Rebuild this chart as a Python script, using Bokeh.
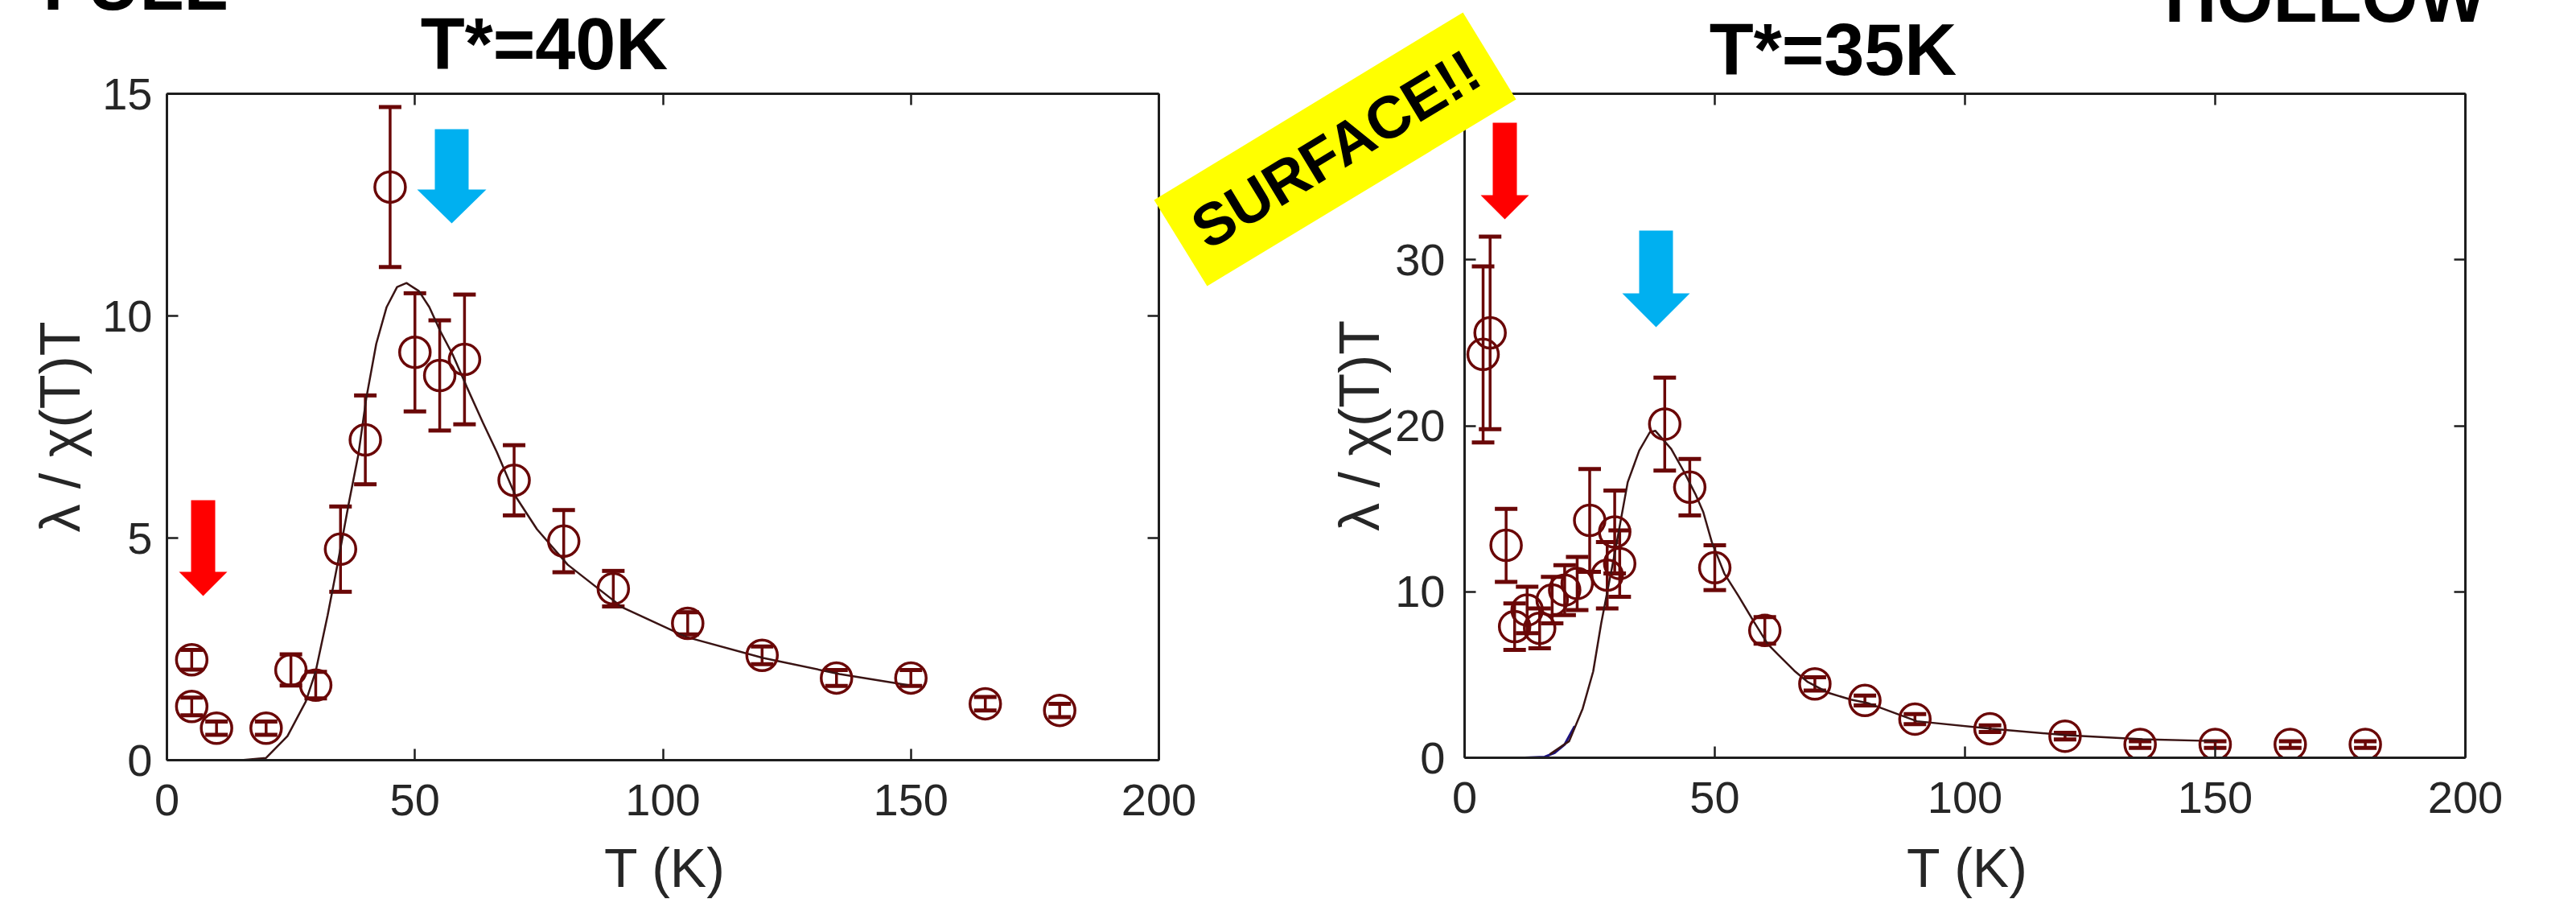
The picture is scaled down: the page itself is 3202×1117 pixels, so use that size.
from bokeh.plotting import figure
from bokeh.layouts import row
from bokeh.models import (ColumnDataSource, Whisker, TeeHead, FixedTicker, LinearAxis,
                          PolyAnnotation, Range1d)
from bokeh.core.properties import value
from bokeh.embed import file_html
from bokeh.resources import INLINE

# ---------------- data : FULL (left panel) ----------------
full_T = [5, 5, 10, 20, 25, 30, 35, 40, 45, 50, 55, 60, 70, 80, 90, 105, 120, 135, 150, 165, 180]
full_val = [2.26, 1.21, 0.72, 0.72, 2.03, 1.69, 4.75, 7.21, 12.9, 9.18, 8.66, 9.02, 6.30, 4.93,
            3.86, 3.08, 2.36, 1.85, 1.85, 1.27, 1.12]
full_err = [0.22, 0.20, 0.15, 0.15, 0.35, 0.30, 0.96, 1.00, 1.80, 1.33, 1.24, 1.46, 0.79, 0.70,
            0.40, 0.25, 0.20, 0.18, 0.18, 0.15, 0.15]
full_fit_T = [15, 20, 24.3, 28, 30, 32.4, 34.5, 36.7, 38.6, 40.2, 42.2, 44.3, 46.4, 48.3, 50.8,
              52.9, 55.1, 57.7, 60.5, 63.7, 66.5, 70.4, 74.6, 80.8, 91.8, 104.8, 120.2, 135.6, 149.4]
full_fit_val = [0, 0.05, 0.54, 1.32, 2.0, 3.26, 4.47, 5.8, 6.88, 8.15, 9.37, 10.2, 10.65, 10.74,
                10.56, 10.2, 9.66, 9.11, 8.39, 7.6, 6.94, 5.92, 5.2, 4.4, 3.44, 2.77, 2.3, 1.94, 1.69]

# ---------------- data : HOLLOW (right panel) ----------------
hol_T = [3.7, 5.1, 8.3, 10, 12.5, 15, 17.5, 20, 22.5, 25, 28.5, 30, 31, 40, 45, 50, 60, 70, 80,
         90, 105, 120, 135, 150, 165, 180]
hol_val = [24.3, 25.6, 12.8, 7.9, 8.9, 7.8, 9.5, 10.1, 10.5, 14.3, 11.0, 13.6, 11.7, 20.1, 16.3,
           11.45, 7.67, 4.45, 3.45, 2.33, 1.75, 1.3, 0.8, 0.8, 0.8, 0.8]
hol_err = [5.3, 5.8, 2.2, 1.4, 1.4, 1.2, 1.4, 1.5, 1.6, 3.1, 2.0, 2.5, 2.0, 2.8, 1.7, 1.35, 0.8,
           0.4, 0.3, 0.3, 0.2, 0.2, 0.2, 0.2, 0.2, 0.2]
hol_fit_T = [17, 20.9, 23.6, 25.7, 27.3, 30, 32.6, 34.9, 37, 38.1, 41.3, 43.9, 46.1, 47.7, 49.4,
             51.9, 54.7, 57.9, 60.6, 62.7, 65.9, 68.6, 72.8, 77.2, 80.5, 90.4, 105.3, 120.3,
             135.5, 150.5]
hol_fit_val = [0.2, 1.0, 2.96, 5.2, 8.1, 12.3, 16.6, 18.5, 19.6, 19.7, 18.6, 17.2, 15.9, 14.8,
               13.0, 11.1, 9.76, 8.15, 6.84, 6.2, 5.24, 4.56, 3.9, 3.5, 3.3, 2.2, 1.75, 1.36,
               1.12, 1.0]
hol_base_T = [8, 12, 16, 18, 20, 22]
hol_base_val = [0, 0, 0.05, 0.3, 0.8, 1.9]

x_ticks = [0, 50, 100, 150, 200]
full_y_ticks = [0, 5, 10, 15]
hol_y_ticks = [0, 10, 20, 30]

# ---------------- layout (page pixels) ----------------
PAGE_W, PAGE_H = 3202, 1117
SPLIT = 1488
LF = dict(x0=207, x1=1440, y0=112, y1=940, xr=(0, 200), yr=(0, 15), cx0=0, cx1=SPLIT)
RF = dict(x0=1820, x1=3064, y0=116, y1=941, xr=(0, 200), yr=(0, 40), cx0=SPLIT, cx1=PAGE_W)

MARK = "#6a0707"
FIT = "#3a1414"
AX = "#1e1e1e"
TXT = "#262626"
FONT = "Liberation Sans"
YLABEL = "λ / χ(T)T"
XLABEL = "T (K)"


def dx(F, px):
    return F["xr"][0] + (px - F["x0"]) * (F["xr"][1] - F["xr"][0]) / (F["x1"] - F["x0"])


def dy(F, py):
    return F["yr"][0] + (F["y1"] - py) * (F["yr"][1] - F["yr"][0]) / (F["y1"] - F["y0"])


def style_axis(ax, ticks, show, standoff=20):
    ax.ticker = FixedTicker(ticks=ticks)
    ax.axis_line_color = AX
    ax.axis_line_width = 3
    ax.major_tick_in = 14
    ax.major_tick_out = 0
    ax.major_tick_line_color = AX
    ax.major_tick_line_width = 2.5
    ax.minor_tick_line_color = None
    if show:
        ax.major_label_text_font = FONT
        ax.major_label_text_font_size = "56px"
        ax.major_label_text_color = TXT
        ax.major_label_standoff = standoff
    else:
        ax.major_label_overrides = {t: "" for t in ticks}
        ax.major_label_text_font_size = "1px"
        ax.major_label_standoff = 0


def make_fig(F, yticks, ystand, xstand, ylab_stand):
    p = figure(output_backend="svg", toolbar_location=None,
               frame_width=F["x1"] - F["x0"], frame_height=F["y1"] - F["y0"],
               min_border_left=F["x0"] - F["cx0"], min_border_right=F["cx1"] - F["x1"],
               min_border_top=F["y0"], min_border_bottom=PAGE_H - F["y1"],
               x_range=Range1d(*F["xr"]), y_range=Range1d(*F["yr"]))
    p.xgrid.grid_line_color = None
    p.ygrid.grid_line_color = None
    p.outline_line_color = None
    style_axis(p.xaxis[0], x_ticks, True, xstand)
    yax = p.yaxis[0]
    style_axis(yax, yticks, True, ystand)
    yax.axis_label = YLABEL
    yax.axis_label_text_font = FONT
    yax.axis_label_text_font_size = "70px"
    yax.axis_label_text_font_style = "normal"
    yax.axis_label_text_color = TXT
    yax.axis_label_standoff = ylab_stand
    top = LinearAxis()
    style_axis(top, x_ticks, False)
    p.add_layout(top, "above")
    rgt = LinearAxis()
    style_axis(rgt, yticks + [F["yr"][1]], False)
    p.add_layout(rgt, "right")
    return p


def add_series(p, T, val, err, fitT, fitV):
    p.line(fitT, fitV, line_color=FIT, line_width=2.5)
    src = ColumnDataSource(dict(x=T, y=val,
                                lo=[v - e for v, e in zip(val, err)],
                                hi=[v + e for v, e in zip(val, err)]))
    p.scatter("x", "y", source=src, marker="circle", size=38, fill_color=None,
              line_color=MARK, line_width=3.5)
    p.add_layout(Whisker(source=src, base="x", upper="hi", lower="lo", dimension="height",
                         line_color=MARK, line_width=3.5,
                         upper_head=TeeHead(size=28, line_color=MARK, line_width=5),
                         lower_head=TeeHead(size=28, line_color=MARK, line_width=5)))


def add_arrow(p, F, shaft, top, base, head, tip, color):
    (sx0, sx1), (hx0, hx1), (tx, ty) = shaft, head, tip
    xs = [sx0, sx1, sx1, hx1, tx, hx0, sx0]
    ys = [top, top, base, base, ty, base, base]
    p.add_layout(PolyAnnotation(xs=[dx(F, x) for x in xs], ys=[dy(F, y) for y in ys],
                                fill_color=color, fill_alpha=1, line_alpha=0))


# ---------------- left panel ----------------
pl = make_fig(LF, full_y_ticks, 18, 30, 10)
add_series(pl, full_T, full_val, full_err, full_fit_T, full_fit_val)
add_arrow(pl, LF, (237, 267), 617, 706, (222, 282), (252, 736), "#ff0000")
add_arrow(pl, LF, (540, 582), 156, 231, (518, 604), (561, 273), "#00b0f0")

# ---------------- right panel ----------------
pr = make_fig(RF, hol_y_ticks, 24, 30, 2)
pr.line(hol_base_T, hol_base_val, line_color="#1c1280", line_width=3)
add_series(pr, hol_T, hol_val, hol_err, hol_fit_T, hol_fit_val)
add_arrow(pr, RF, (1855, 1885), 152, 242, (1840, 1900), (1870, 272), "#ff0000")
add_arrow(pr, RF, (2037, 2079), 286, 364, (2016, 2100), (2058, 406), "#00b0f0")

# ---------------- transparent overlay for free texts and the banner ----------------
TOPX = 130   # overlay starts above the page so the cut-off headings stay inside its canvas
ov = figure(output_backend="svg", toolbar_location=None, width=PAGE_W, height=PAGE_H + TOPX,
            x_range=Range1d(0, PAGE_W), y_range=Range1d(-PAGE_H, TOPX),
            min_border=0, x_axis_location=None, y_axis_location=None,
            background_fill_color=None, border_fill_color=None, outline_line_color=None,
            styles={"position": "absolute", "left": "0px", "top": f"-{TOPX}px",
                    "z-index": "10"})
ov.xgrid.visible = False
ov.ygrid.visible = False

banner_x = [1434, 1818, 1884, 1500]
banner_y = [248, 15, 123, 355]
ov.patch(banner_x, [-y for y in banner_y], fill_color="#ffff00", line_alpha=0)


def otext(px, py, text, size, bold=False, align="center", angle=None, color=TXT):
    kw = {}
    if angle:
        kw = dict(angle=angle, angle_units="deg")
    ov.text(x=[px], y=[-py], text=[text], text_font=value(FONT),
            text_font_size=value(f"{size}px"),
            text_font_style="bold" if bold else "normal",
            text_align=align, text_baseline="middle", text_color=color, **kw)


otext(676, 54, "T*=40K", 90, bold=True, color="black")
otext(2278, 61, "T*=35K", 90, bold=True, color="black")
otext(1660, 185, "SURFACE!!", 74, bold=True, angle=31.2, color="black")
otext(826, 1077, XLABEL, 68)
otext(2445, 1077, XLABEL, 68)
otext(168, -20, "FULL", 90, bold=True, color="black")
otext(2890, -5, "HOLLOW", 90, bold=True, color="black")

layout = row(pl, pr)
open("out.html", "w").write(file_html([layout, ov], INLINE))
